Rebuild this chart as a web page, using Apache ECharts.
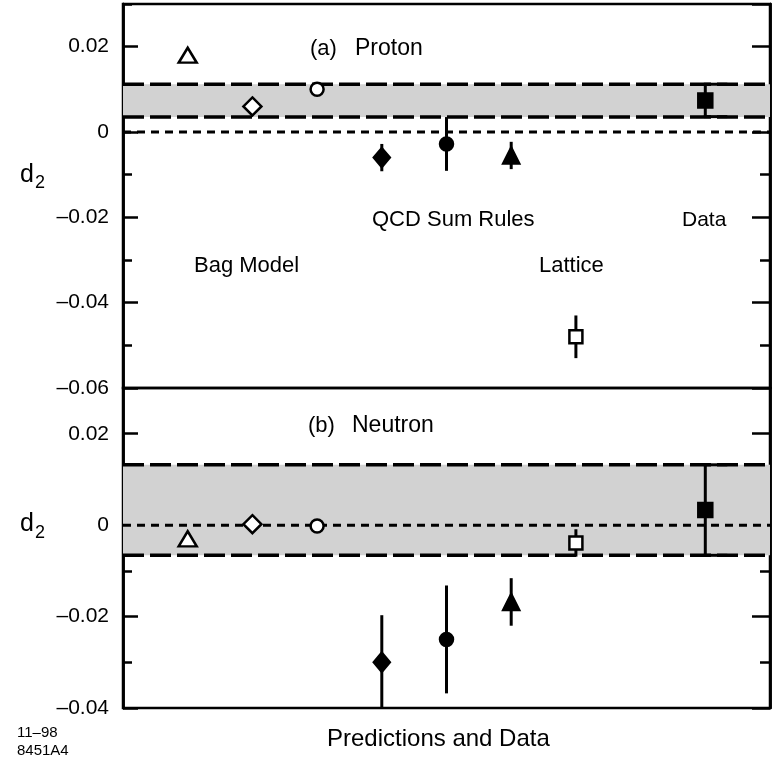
<!DOCTYPE html>
<html>
<head>
<meta charset="utf-8">
<script src="https://cdn.jsdelivr.net/npm/echarts@6/dist/echarts.min.js"></script>
<style>
html,body{margin:0;padding:0;background:#fff;}
#chart{width:775px;height:760px;}
</style>
</head>
<body>
<div id="chart"></div>
<script>
// ---- Data ----
const predictionLabels = ['Bag Model 1', 'Bag Model 2', 'Bag Model 3', 'QCD Sum Rules 1', 'QCD Sum Rules 2', 'QCD Sum Rules 3', 'Lattice', 'Data'];
const xPos = [1, 2, 3, 4, 5, 6, 7, 9];
const protonD2 = [0.018, 0.006, 0.010, -0.006, -0.0028, -0.0055, -0.048, 0.0074];
const protonErr = [0, 0, 0, 0.0032, 0.0063, 0.0032, 0.005, 0.0038];
const protonBand = [0.0035, 0.0112];
const neutronD2 = [-0.003, 0.0002, -0.0002, -0.030, -0.025, -0.0168, -0.0039, 0.0033];
const neutronErr = [0, 0, 0, 0.0103, 0.0118, 0.0052, 0.003, 0.0099];
const neutronBand = [-0.0066, 0.0132];
const yTicksProton = { min: -0.06, max: 0.03, major: 0.02, minor: 0.01 };
const yTicksNeutron = { min: -0.04, max: 0.03, major: 0.02, minor: 0.01 };

// ---- Styles ----
const markerStyles = [
  { symbol: 'triangle', size: [18, 15], fill: '#fff' },
  { symbol: 'diamond', size: [18, 18], fill: '#fff' },
  { symbol: 'circle', size: 13, fill: '#fff' },
  { symbol: 'diamond', size: [16, 19], fill: '#000' },
  { symbol: 'circle', size: 13, fill: '#000' },
  { symbol: 'triangle', size: [16, 16], fill: '#000' },
  { symbol: 'rect', size: [13, 13], fill: '#fff' },
  { symbol: 'rect', size: [14, 14], fill: '#000' }
];
const FONT = '"Liberation Sans", Arial, Helvetica, sans-serif';

function fmt(v) {
  const k = Math.round(v / 0.02);
  if (Math.abs(k * 0.02 - v) > 1e-9) return '';
  if (k === 0) return '0';
  return (v < 0 ? '\u2013' : '') + Math.abs(v).toFixed(2);
}

function yAxes(gridIndex, t) {
  const base = {
    type: 'value', gridIndex: gridIndex, min: t.min, max: t.max,
    splitLine: { show: false },
    axisLine: { show: true, lineStyle: { color: '#000', width: 2.5 } }
  };
  return [
    Object.assign({}, base, {
      position: 'left', interval: t.major,
      axisTick: { show: true, inside: true, length: 15, lineStyle: { color: '#000', width: 2.5 } },
      axisLabel: { show: true, formatter: fmt, showMaxLabel: false, color: '#000', fontSize: 21, fontFamily: FONT, margin: 14 }
    }),
    Object.assign({}, base, {
      position: 'left', interval: t.minor,
      axisTick: { show: true, inside: true, length: 9, lineStyle: { color: '#000', width: 2.5 } },
      axisLabel: { show: false }
    }),
    Object.assign({}, base, {
      position: 'right', interval: t.major,
      axisTick: { show: true, inside: true, length: 18, lineStyle: { color: '#000', width: 2.5 } },
      axisLabel: { show: false }
    }),
    Object.assign({}, base, {
      position: 'right', interval: t.minor,
      axisTick: { show: true, inside: true, length: 10, lineStyle: { color: '#000', width: 2.5 } },
      axisLabel: { show: false }
    })
  ];
}

function bandSeries(xi, yi, band) {
  return {
    type: 'custom', xAxisIndex: xi, yAxisIndex: yi, z: 1, clip: true, silent: true,
    data: [[band[0], band[1]]],
    renderItem: function (params, api) {
      const lo = api.value(0), hi = api.value(1);
      const a = api.coord([0, hi]);
      const b = api.coord([10, lo]);
      const z0 = api.coord([0, 0]);
      const z1 = api.coord([10, 0]);
      return {
        type: 'group',
        children: [
          { type: 'rect', shape: { x: a[0], y: a[1], width: b[0] - a[0], height: b[1] - a[1] }, style: { fill: '#d2d2d2' } },
          { type: 'line', shape: { x1: z0[0], y1: z0[1], x2: z1[0], y2: z1[1] }, style: { stroke: '#000', lineWidth: 3, lineDash: [8, 6] } },
          { type: 'line', shape: { x1: a[0], y1: a[1], x2: b[0], y2: a[1] }, style: { stroke: '#000', lineWidth: 3.5, lineDash: [21, 6] } },
          { type: 'line', shape: { x1: a[0], y1: b[1], x2: b[0], y2: b[1] }, style: { stroke: '#000', lineWidth: 3.5, lineDash: [21, 6] } }
        ]
      };
    }
  };
}

function errorSeries(xi, yi, vals, errs) {
  const data = [];
  xPos.forEach((x, i) => { if (errs[i] > 0) data.push([x, vals[i], errs[i], i]); });
  return {
    type: 'custom', xAxisIndex: xi, yAxisIndex: yi, z: 3, clip: true, silent: true,
    data: data,
    renderItem: function (params, api) {
      const x = api.value(0), v = api.value(1), e = api.value(2), idx = api.value(3);
      const top = api.coord([x, v + e]);
      const bot = api.coord([x, v - e]);
      const children = [
        { type: 'line', shape: { x1: top[0], y1: top[1], x2: bot[0], y2: bot[1] }, style: { stroke: '#000', lineWidth: 3 } }
      ];
      if (idx === xPos.length - 1) {
        const capT = api.coord([x + 0.34, v + e]);
        const capB = api.coord([x + 0.34, v - e]);
        children.push({ type: 'line', shape: { x1: top[0] - 1.5, y1: top[1], x2: capT[0], y2: capT[1] }, style: { stroke: '#000', lineWidth: 3 } });
        children.push({ type: 'line', shape: { x1: bot[0] - 1.5, y1: bot[1], x2: capB[0], y2: capB[1] }, style: { stroke: '#000', lineWidth: 3 } });
      }
      return { type: 'group', children: children };
    }
  };
}

function markerSeries(xi, yi, vals) {
  return {
    type: 'scatter', xAxisIndex: xi, yAxisIndex: yi, z: 4, silent: true,
    data: xPos.map((x, i) => ({
      name: predictionLabels[i],
      value: [x, vals[i]],
      symbol: markerStyles[i].symbol,
      symbolSize: markerStyles[i].size,
      itemStyle: { color: markerStyles[i].fill, borderColor: '#000', borderWidth: 2.5, opacity: 1 }
    }))
  };
}

function txt(x, y, s, size, align) {
  return { type: 'text', x: x, y: y, z: 10, style: { text: s, fill: '#000', font: size + 'px ' + FONT, textAlign: align || 'left', textVerticalAlign: 'middle' } };
}

const chart = echarts.init(document.getElementById('chart'), null, { renderer: 'canvas' });
chart.setOption({
  animation: false,
  backgroundColor: '#fff',
  grid: [
    { left: 123, right: 5, top: 4, height: 384, show: true, borderColor: '#000', borderWidth: 2.5, backgroundColor: 'transparent' },
    { left: 123, right: 5, top: 388, height: 320, show: true, borderColor: '#000', borderWidth: 2.5, backgroundColor: 'transparent' }
  ],
  xAxis: [
    { type: 'value', gridIndex: 0, min: 0, max: 10, show: false },
    { type: 'value', gridIndex: 1, min: 0, max: 10, show: false }
  ],
  yAxis: yAxes(0, yTicksProton).concat(yAxes(1, yTicksNeutron)),
  series: [
    bandSeries(0, 0, protonBand),
    errorSeries(0, 0, protonD2, protonErr),
    markerSeries(0, 0, protonD2),
    bandSeries(1, 4, neutronBand),
    errorSeries(1, 4, neutronD2, neutronErr),
    markerSeries(1, 4, neutronD2)
  ],
  graphic: [
    txt(310, 49, '(a)', 22),
    txt(355, 49, 'Proton', 23),
    txt(308, 426, '(b)', 22),
    txt(352, 426, 'Neutron', 23),
    txt(194, 266, 'Bag Model', 22),
    txt(372, 220, 'QCD Sum Rules', 22),
    txt(682, 220, 'Data', 21),
    txt(539, 266, 'Lattice', 22),
    txt(327, 739, 'Predictions and Data', 24),
    txt(20, 175, 'd', 25),
    txt(35, 183, '2', 18),
    txt(20, 524, 'd', 25),
    txt(35, 533, '2', 18),
    txt(17, 733, '11\u201398', 15),
    txt(17, 751, '8451A4', 15)
  ]
});
</script>
</body>
</html>
